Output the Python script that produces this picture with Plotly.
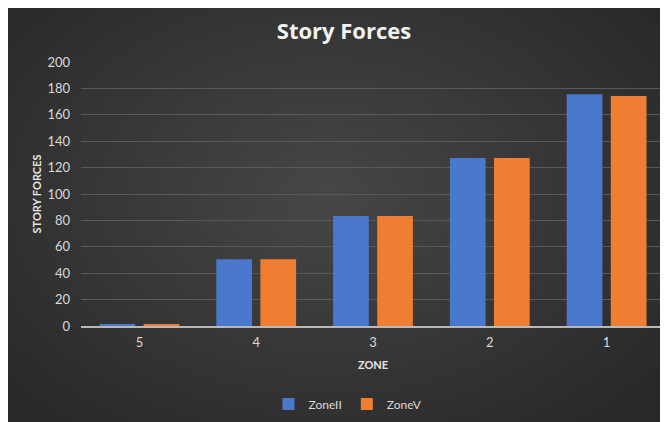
import plotly.graph_objects as go

zones = ["5", "4", "3", "2", "1"]
zone_ii = [0.8, 50.5, 83.3, 127.3, 175.5]
zone_v = [0.8, 50.5, 83.3, 127.3, 174.3]
y_ticks = [0, 20, 40, 60, 80, 100, 120, 140, 160, 180, 200]

FONT = "Lato"
# the page adds an 8px body margin, so the figure is sized to fit the window
OFF = 8
W, H = 668 - OFF, 422 - OFF
L, R, T, B = 73, 3, 54, 96
pw = W - L - R
ph = H - T - B

def px_x(p):
    return (p - OFF - L) / pw

def px_y(p):
    return (H - B - (p - OFF)) / ph

fig = go.Figure()
fig.add_bar(x=zones, y=zone_ii, name="ZoneII", marker=dict(color="#4a78cc", line=dict(width=0)))
fig.add_bar(x=zones, y=zone_v, name="ZoneV", marker=dict(color="#ef7e32", line=dict(width=0)))

shapes = []
cx, cy = 325, 195
n = 30
for i in range(n):
    f = 1 - i / n
    rx = 430 * f
    ry = 300 * f
    shapes.append(dict(type="circle", xref="paper", yref="paper", layer="below",
                       x0=px_x(cx - rx), x1=px_x(cx + rx),
                       y0=px_y(cy + ry), y1=px_y(cy - ry),
                       fillcolor="rgba(255,255,255,0.009)", line=dict(width=0)))

fig.update_layout(
    width=W, height=H,
    margin=dict(l=L, r=R, t=T, b=B),
    paper_bgcolor="#282828",
    plot_bgcolor="rgba(0,0,0,0)",
    shapes=shapes,
    barmode="group",
    bargap=0.245,
    bargroupgap=0.19,
    font=dict(family=FONT, color="#d9d9d9", size=13),
    title=dict(text="<b>Story Forces</b>", x=(344 - OFF) / W, xanchor="center",
               y=1 - (31 - OFF) / H, yanchor="middle",
               font=dict(family="Open Sans", size=22, color="#f2f2f2")),
    xaxis=dict(
        showgrid=False, showline=True, linecolor="#b8b8b8", linewidth=1.5,
        ticks="", ticklabelstandoff=4, tickfont=dict(size=13, color="#d9d9d9"),
        title=dict(text="<b>ZONE</b>", font=dict(size=11, color="#e6e6e6"), standoff=12),
    ),
    yaxis=dict(
        range=[0, 200], tickvals=y_ticks, showgrid=True, gridcolor="#595959", gridwidth=1,
        zeroline=False, showline=False, ticks="", ticklabelstandoff=10,
        tickfont=dict(size=13, color="#d9d9d9"),
        title=dict(text="<b>STORY FORCES</b>", font=dict(size=11, color="#e6e6e6"), standoff=3),
    ),
    legend=dict(orientation="h", x=px_x(348), xanchor="center", y=px_y(404), yanchor="middle",
                font=dict(size=12, color="#d9d9d9"), bgcolor="rgba(0,0,0,0)",
                itemwidth=30, tracegroupgap=0),
)

fig.write_html("out.html")
